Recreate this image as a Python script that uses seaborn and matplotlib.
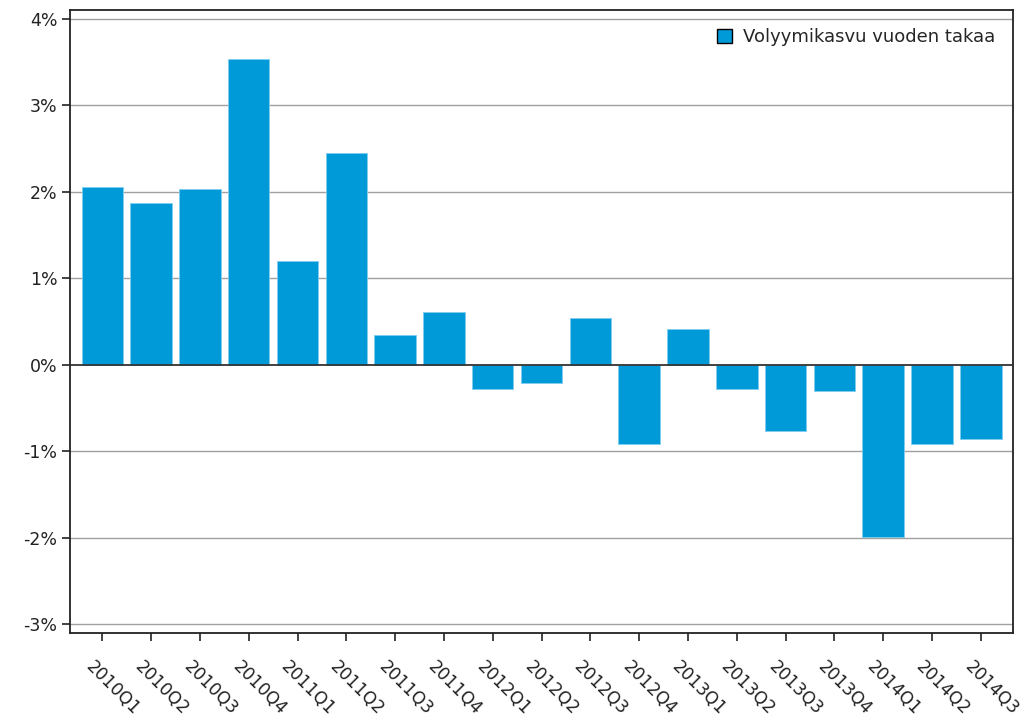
import numpy as np
import pandas as pd
import matplotlib
matplotlib.use("Agg")
import matplotlib.pyplot as plt
import matplotlib.transforms as mtransforms
import seaborn as sns
from matplotlib.ticker import FuncFormatter

# Data
quarters = ["2010Q1", "2010Q2", "2010Q3", "2010Q4",
            "2011Q1", "2011Q2", "2011Q3", "2011Q4",
            "2012Q1", "2012Q2", "2012Q3", "2012Q4",
            "2013Q1", "2013Q2", "2013Q3", "2013Q4",
            "2014Q1", "2014Q2", "2014Q3"]
growth = [2.06, 1.87, 2.03, 3.54,
          1.20, 2.45, 0.34, 0.61,
          -0.28, -0.21, 0.54, -0.91,
          0.42, -0.28, -0.77, -0.30,
          -1.99, -0.91, -0.86]
yticks = [-3, -2, -1, 0, 1, 2, 3, 4]
series_name = "Volyymikasvu vuoden takaa"

df = pd.DataFrame({"quarter": quarters, "growth": growth})

sns.set_theme(style="white")
plt.rcParams["font.family"] = ["DejaVu Sans"]

fig = plt.figure(figsize=(10.31, 7.26), dpi=100)
ax = fig.add_axes([0.068, 0.128, 0.915, 0.858])

blue = "#009ad9"
sns.barplot(data=df, x="quarter", y="growth", color=blue, saturation=1,
            width=0.85, edgecolor="#7fcdf0", linewidth=0.6, ax=ax,
            label=series_name, zorder=3)

ax.set_ylim(-3.1, 4.1)
ax.set_xlim(-0.66, len(quarters) - 0.33)
ax.set_yticks(yticks)
ax.yaxis.set_major_formatter(FuncFormatter(lambda v, p: f"{v:.0f}%"))

for v in yticks:
    if v == 0:
        ax.axhline(0, color="#333333", lw=1.3, zorder=4)
    else:
        ax.axhline(v, color="#a0a0a0", lw=1.0, zorder=1)

ax.set_xlabel("")
ax.set_ylabel("")
for s in ax.spines.values():
    s.set_color("#222222")
    s.set_linewidth(1.3)

ax.tick_params(axis="both", which="major", direction="out", length=6,
               width=1.2, color="#222222", labelcolor="#222222",
               left=True, bottom=True)
ax.tick_params(axis="y", pad=3, labelsize=12.5)
ax.tick_params(axis="x", pad=12, labelsize=12.3)

# rotated quarter labels, nudged left like the original
shift = mtransforms.ScaledTranslation(-7 / 100, 0, fig.dpi_scale_trans)
for lbl in ax.get_xticklabels():
    lbl.set_rotation(-45)
    lbl.set_ha("left")
    lbl.set_va("top")
    lbl.set_rotation_mode("anchor")
    lbl.set_transform(lbl.get_transform() + shift)

ax.legend(loc="upper right", frameon=False, fontsize=13,
          handlelength=0.85, handleheight=0.85, handletextpad=0.6,
          borderaxespad=0.6)
leg = ax.get_legend()
for h in leg.legend_handles:
    h.set_edgecolor("black")
    h.set_linewidth(1.0)

fig.savefig("out.png", dpi=100)
